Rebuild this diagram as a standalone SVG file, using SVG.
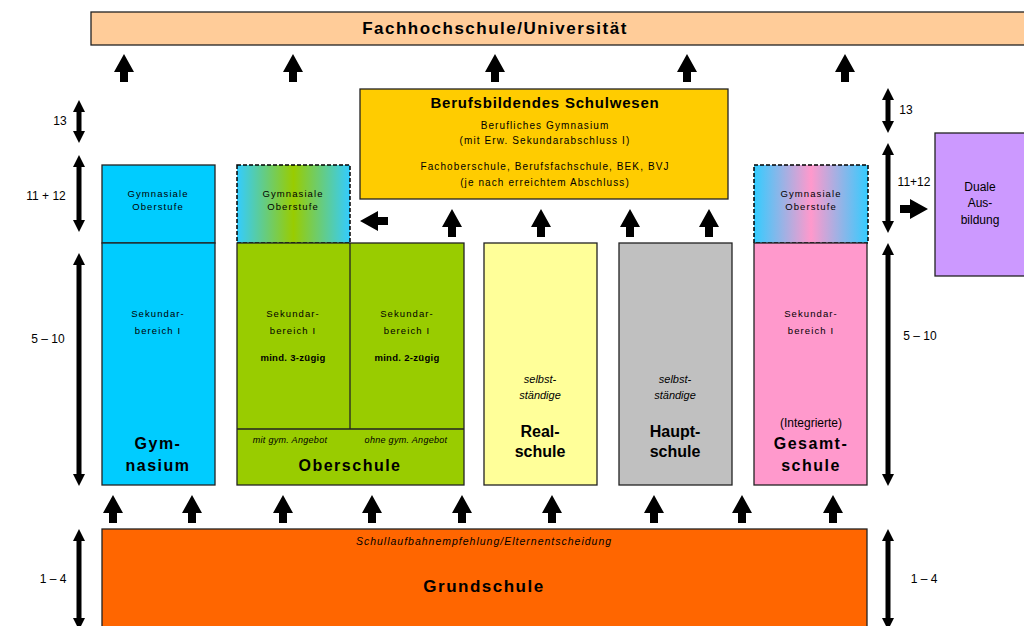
<svg xmlns="http://www.w3.org/2000/svg" width="1024" height="626" viewBox="0 0 1024 626">
<style>
text{font-family:"Liberation Sans",Arial,sans-serif;fill:#000;text-anchor:middle}
.box{stroke:#222;stroke-width:1.3}
.dash{fill:none;stroke:#000;stroke-width:1.5;stroke-dasharray:4,2}
.big{font-size:16px;font-weight:bold;letter-spacing:1.5px}
.sm{font-size:9.5px;letter-spacing:1.1px}
.lab{font-size:12px}
.it{font-style:italic}
.dbl{stroke:#000;stroke-width:5;marker-start:url(#hd);marker-end:url(#hd)}
</style>
<defs>
<marker id="hd" viewBox="0 0 12 12" refX="2" refY="6" markerWidth="12" markerHeight="12" markerUnits="userSpaceOnUse" orient="auto-start-reverse"><path d="M0,0 L12,6 L0,12 Z" fill="#000"/></marker>
<path id="up" d="M0,0 L10,18 L4,18 L4,28 L-4,28 L-4,18 L-10,18 Z" fill="#000"/>
<linearGradient id="gGreen" x1="0" y1="0" x2="1" y2="0"><stop offset="0" stop-color="#33CCFF"/><stop offset="0.5" stop-color="#99CC00"/><stop offset="1" stop-color="#33CCFF"/></linearGradient>
<linearGradient id="gPink" x1="0" y1="0" x2="1" y2="0"><stop offset="0" stop-color="#33CCFF"/><stop offset="0.5" stop-color="#FF99CC"/><stop offset="1" stop-color="#33CCFF"/></linearGradient>
</defs>

<g id="uni">
<rect class="box" x="91" y="12" width="940" height="33" fill="#FFCC99"/>
<text x="495" y="34" style="font-size:17px;font-weight:bold;letter-spacing:1.5px">Fachhochschule/Universität</text>
</g>

<g id="berufsbildend">
<rect class="box" x="360" y="89" width="368" height="110" fill="#FFCC00"/>
<text x="545" y="108" style="font-size:15px;font-weight:bold;letter-spacing:0.8px">Berufsbildendes Schulwesen</text>
<text x="545" y="129" style="font-size:10px;letter-spacing:1.1px">Berufliches Gymnasium</text>
<text x="545" y="144" style="font-size:10px;letter-spacing:1.1px">(mit Erw. Sekundarabschluss I)</text>
<text x="545" y="170" style="font-size:10px;letter-spacing:1.1px">Fachoberschule, Berufsfachschule, BEK, BVJ</text>
<text x="545" y="186" style="font-size:10px;letter-spacing:1.1px">(je nach erreichtem Abschluss)</text>
</g>

<g id="gymnasium">
<rect class="box" x="102" y="165" width="113" height="78" fill="#00CCFF"/>
<rect class="box" x="102" y="243" width="113" height="242" fill="#00CCFF"/>
<text class="sm" x="158" y="197">Gymnasiale</text>
<text class="sm" x="158" y="210">Oberstufe</text>
<text class="sm" x="158" y="317">Sekundar-</text>
<text class="sm" x="158" y="334">bereich I</text>
<text class="big" x="158" y="449">Gym-</text>
<text class="big" x="158" y="471">nasium</text>
</g>

<g id="oberschule">
<rect x="237" y="165" width="113" height="78" fill="url(#gGreen)"/>
<rect class="dash" x="237" y="165" width="113" height="78"/>
<rect class="box" x="237" y="243" width="227" height="242" fill="#99CC00"/>
<line x1="350" y1="243" x2="350" y2="429" stroke="#222" stroke-width="1.3"/>
<line x1="237" y1="429" x2="464" y2="429" stroke="#222" stroke-width="1.3"/>
<text class="sm" x="293" y="197">Gymnasiale</text>
<text class="sm" x="293" y="210">Oberstufe</text>
<text class="sm" x="293" y="317">Sekundar-</text>
<text class="sm" x="293" y="334">bereich I</text>
<text class="sm" x="293" y="361" style="font-weight:bold;letter-spacing:0.3px">mind. 3-zügig</text>
<text class="sm" x="407" y="317">Sekundar-</text>
<text class="sm" x="407" y="334">bereich I</text>
<text class="sm" x="407" y="361" style="font-weight:bold;letter-spacing:0.3px">mind. 2-zügig</text>
<text class="it" x="290" y="443" style="font-size:9px;letter-spacing:0.3px">mit gym. Angebot</text>
<text class="it" x="406" y="443" style="font-size:9px;letter-spacing:0.3px">ohne gym. Angebot</text>
<text class="big" x="350" y="471">Oberschule</text>
</g>

<g id="realschule">
<rect class="box" x="484" y="243" width="113" height="242" fill="#FFFF99"/>
<text class="it" x="540" y="383" style="font-size:11px">selbst-</text>
<text class="it" x="540" y="399" style="font-size:11px">ständige</text>
<text x="540" y="437" style="font-size:16px;font-weight:bold">Real-</text>
<text x="540" y="457" style="font-size:16px;font-weight:bold">schule</text>
</g>

<g id="hauptschule">
<rect class="box" x="619" y="243" width="113" height="242" fill="#C0C0C0"/>
<text class="it" x="675" y="383" style="font-size:11px">selbst-</text>
<text class="it" x="675" y="399" style="font-size:11px">ständige</text>
<text x="675" y="437" style="font-size:16px;font-weight:bold">Haupt-</text>
<text x="675" y="457" style="font-size:16px;font-weight:bold">schule</text>
</g>

<g id="gesamtschule">
<rect x="754" y="165" width="114" height="78" fill="url(#gPink)"/>
<rect class="dash" x="754" y="165" width="114" height="78"/>
<rect class="box" x="754" y="243" width="113" height="242" fill="#FF99CC"/>
<text class="sm" x="811" y="197">Gymnasiale</text>
<text class="sm" x="811" y="210">Oberstufe</text>
<text class="sm" x="811" y="317">Sekundar-</text>
<text class="sm" x="811" y="334">bereich I</text>
<text x="811" y="427" style="font-size:12px">(Integrierte)</text>
<text class="big" x="811" y="449">Gesamt-</text>
<text class="big" x="811" y="471">schule</text>
</g>

<g id="duale">
<rect class="box" x="935" y="133" width="100" height="143" fill="#CC99FF"/>
<text x="980" y="191" style="font-size:12px">Duale</text>
<text x="980" y="207" style="font-size:12px">Aus-</text>
<text x="980" y="224" style="font-size:12px">bildung</text>
</g>

<g id="grundschule">
<rect class="box" x="102" y="529" width="765" height="110" fill="#FF6600"/>
<text class="it" x="484" y="545" style="font-size:10.5px;letter-spacing:1px">Schullaufbahnempfehlung/Elternentscheidung</text>
<text x="484" y="592" style="font-size:17px;font-weight:bold;letter-spacing:1.5px">Grundschule</text>
</g>

<g id="labels">
<text class="lab" x="60" y="125">13</text>
<text class="lab" x="46" y="200">11 + 12</text>
<text class="lab" x="48" y="343">5 – 10</text>
<text class="lab" x="53" y="583">1 – 4</text>
<text class="lab" x="906" y="114">13</text>
<text class="lab" x="914" y="186">11+12</text>
<text class="lab" x="920" y="340">5 – 10</text>
<text class="lab" x="924" y="583">1 – 4</text>
</g>

<g id="connectors">
<line class="dbl" x1="79" y1="110" x2="79" y2="133"/>
<line class="dbl" x1="79" y1="165" x2="79" y2="222"/>
<line class="dbl" x1="79" y1="263" x2="79" y2="476"/>
<line class="dbl" x1="79" y1="539" x2="79" y2="620"/>
<line class="dbl" x1="888" y1="98" x2="888" y2="123"/>
<line class="dbl" x1="888" y1="153" x2="888" y2="223"/>
<line class="dbl" x1="888" y1="253" x2="888" y2="476"/>
<line class="dbl" x1="888" y1="539" x2="888" y2="620"/>
<use href="#up" x="124" y="54"/>
<use href="#up" x="293" y="54"/>
<use href="#up" x="495" y="54"/>
<use href="#up" x="687" y="54"/>
<use href="#up" x="845" y="54"/>
<use href="#up" x="452" y="209"/>
<use href="#up" x="541" y="209"/>
<use href="#up" x="630" y="209"/>
<use href="#up" x="709" y="209"/>
<use href="#up" transform="translate(360,221) rotate(-90)"/>
<use href="#up" transform="translate(928,209) rotate(90)"/>
<use href="#up" x="113" y="495"/>
<use href="#up" x="192" y="495"/>
<use href="#up" x="283" y="495"/>
<use href="#up" x="372" y="495"/>
<use href="#up" x="462" y="495"/>
<use href="#up" x="552" y="495"/>
<use href="#up" x="654" y="495"/>
<use href="#up" x="742" y="495"/>
<use href="#up" x="833" y="495"/>
</g>
</svg>
